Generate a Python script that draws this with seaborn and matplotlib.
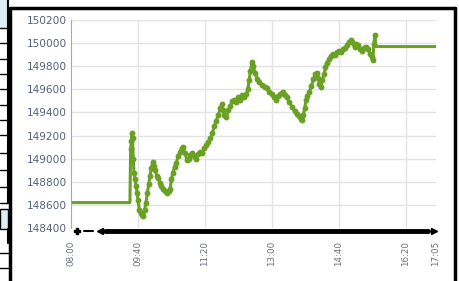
import numpy as np
import pandas as pd
import matplotlib.pyplot as plt
import seaborn as sns
from matplotlib.lines import Line2D
from matplotlib.patches import Rectangle

# minutes after 08:00 and index value
minutes = [0, 88, 89, 90, 91, 92, 93, 94, 96, 97, 99, 100, 102, 104, 106, 108, 110, 112,
           114, 116, 118, 120, 122, 124, 126, 128, 130, 133, 135, 137, 140, 143, 146,
           148, 150, 152, 155, 157, 160, 163, 165, 167, 170, 173, 176, 178, 181, 184,
           187, 190, 193, 196, 199, 202, 205, 208, 211, 214, 217, 220, 223, 225, 227,
           229, 232, 235, 238, 241, 244, 247, 250, 253, 256, 259, 262, 264, 266, 268,
           270, 272, 275, 278, 281, 285, 289, 293, 296, 300, 303, 306, 309, 312, 316,
           319, 322, 326, 330, 334, 337, 340, 343, 345, 347, 349, 351, 353, 356, 359,
           362, 365, 367, 369, 371, 373, 375, 378, 380, 382, 385, 388, 391, 394, 397,
           400, 403, 406, 409, 412, 415, 418, 420, 422, 424, 426, 428, 431, 434, 437,
           440, 443, 446, 449, 451, 452, 454, 455, 545]
values = [148620, 148620, 149080, 149150, 149220, 149180, 149000, 148880, 148820, 148760,
          148700, 148640, 148560, 148530, 148510, 148500, 148560, 148620, 148700, 148780,
          148850, 148920, 148970, 148940, 148900, 148850, 148830, 148790, 148760, 148740,
          148720, 148700, 148720, 148740, 148820, 148880, 148930, 148960, 149020, 149060,
          149090, 149100, 149050, 148990, 149000, 149030, 149050, 149020, 149000, 149040,
          149060, 149050, 149090, 149120, 149140, 149180, 149220, 149280, 149330, 149380,
          149440, 149470, 149420, 149380, 149360, 149420, 149460, 149500, 149510, 149490,
          149530, 149510, 149550, 149530, 149560, 149600, 149680, 149760, 149840, 149800,
          149740, 149690, 149660, 149640, 149620, 149610, 149580, 149560, 149530, 149510,
          149540, 149560, 149580, 149550, 149530, 149490, 149450, 149410, 149390, 149370,
          149340, 149335, 149380, 149440, 149510, 149540, 149580, 149630, 149690, 149730,
          149740, 149700, 149650, 149620, 149680, 149730, 149790, 149830, 149860, 149890,
          149910, 149900, 149920, 149930, 149920, 149950, 149960, 149980, 150010, 150030,
          150010, 149990, 149970, 149990, 149980, 149950, 149930, 149960, 149970, 149950,
          149910, 149880, 149850, 149990, 150070, 149970, 149970]

tick_pos = [0, 100, 200, 300, 400, 500, 545]
tick_labels = ["08:00", "09:40", "11:20", "13:00", "14:40", "16:20", "17:05"]
y_ticks = [148400, 148600, 148800, 149000, 149200, 149400, 149600, 149800, 150000, 150200]

df = pd.DataFrame({"t": minutes, "v": values})
active = df[(df.t >= 89) & (df.t <= 454)]

green = "#6aa125"
sns.set_style("white")

fig = plt.figure(figsize=(4.59, 2.81), dpi=100)
ax = fig.add_axes([71/459, 1-228/281, (436-71)/459, (228-20)/281])

# light grid drawn as plain lines
for yv in y_ticks[1:]:
    ax.axhline(yv, color="#e3e3e3", lw=1, zorder=0)
for xv in tick_pos[1:-1]:
    ax.axvline(xv, color="#e3e3e3", lw=1, zorder=0)

sns.lineplot(data=df, x="t", y="v", ax=ax, color=green, lw=2.2, estimator=None, sort=False)
sns.scatterplot(data=active, x="t", y="v", ax=ax, color=green, s=18, linewidth=0, zorder=3)

ax.set_xlim(0, 545)
ax.set_ylim(148400, 150200)
ax.set_xticks(tick_pos)
ax.set_xticklabels(tick_labels, rotation=90, fontsize=6.3, color="#6b7080")
ax.set_yticks(y_ticks)
ax.set_yticklabels([str(v) for v in y_ticks], fontsize=7.6, color="#55607a")
ax.tick_params(length=0, pad=3)
ax.tick_params(axis="x", pad=9)
ax.set_xlabel("")
ax.set_ylabel("")
for side in ["top", "right", "bottom"]:
    ax.spines[side].set_visible(False)
ax.spines["left"].set_color("#a8a8a8")

# navigator bar below the plot
def px(x, y):
    return x/459, 1-y/281

fig.add_artist(Line2D(*zip(px(105, 231), px(428, 231)), color="black", lw=3.5))
fig.add_artist(Line2D(*zip(px(84, 231), px(93, 231)), color="black", lw=1.5))
fig.add_artist(Line2D([px(77, 231)[0]], [px(77, 231)[1]], marker="P", color="black", ms=4))
fig.add_artist(Line2D([px(100, 231)[0]], [px(100, 231)[1]], marker="<", color="black", ms=4))
fig.add_artist(Line2D([px(434, 231)[0]], [px(434, 231)[1]], marker=">", color="black", ms=5))

# outer box
fig.add_artist(Line2D(*zip(px(10, 8), px(455, 8)), color="black", lw=2.5))
fig.add_artist(Line2D(*zip(px(10, 8), px(10, 281)), color="black", lw=2.5))
fig.add_artist(Line2D(*zip(px(455, 8), px(455, 281)), color="black", lw=2.5))

# side table fragment on the left
fig.add_artist(Rectangle(px(0, 28), 8/459, 28/281, facecolor="#dcedf3", edgecolor="none"))
fig.add_artist(Rectangle(px(0, 229), 8/459, 20/281, facecolor="#dcedf3", edgecolor="black", lw=1))
fig.add_artist(Line2D(*zip(px(8, 0), px(8, 203)), color="black", lw=1.5))
fig.add_artist(Line2D(*zip(px(8, 229), px(8, 243)), color="black", lw=1.5))
for yy in [28, 43, 59, 74, 89, 105, 120, 135, 153, 170, 187, 203]:
    fig.add_artist(Line2D(*zip(px(0, yy), px(8, yy)), color="black", lw=1))
for yy in [253, 268]:
    fig.add_artist(Line2D(*zip(px(0, yy), px(10, yy)), color="black", lw=1))

fig.savefig("out.png", dpi=100)
